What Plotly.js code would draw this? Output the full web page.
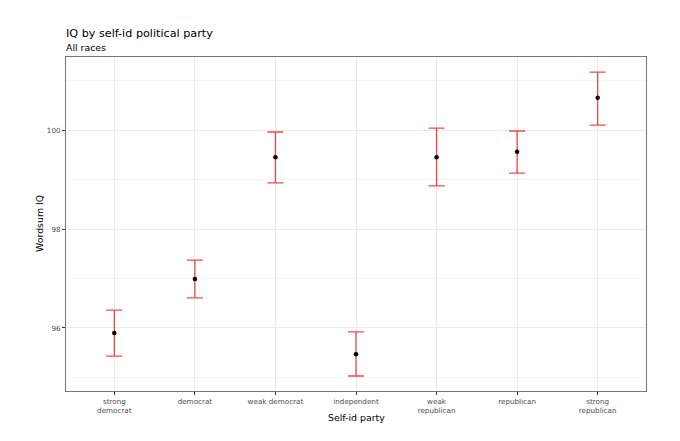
<!DOCTYPE html>
<html>
<head>
<meta charset="utf-8">
<script src="https://cdn.plot.ly/plotly-3.0.1.min.js"></script>
<style>html,body{margin:0;padding:0;background:#fff;}#chart{width:680px;height:441px;}</style>
</head>
<body>
<div id="chart"></div>
<script>
const categories = ["strong<br>democrat", "democrat", "weak democrat", "independent", "weak<br>republican", "republican", "strong<br>republican"];
const means = [95.90, 96.99, 99.45, 95.47, 99.45, 99.56, 100.65];
const upper = [96.36, 97.37, 99.96, 95.92, 100.04, 99.98, 101.17];
const lower = [95.43, 96.61, 98.93, 95.03, 98.87, 99.13, 100.10];
const yTicks = [96, 98, 100];

const xIdx = categories.map((c, i) => i);

const errTrace = {
  x: xIdx,
  y: means,
  type: 'scatter',
  mode: 'markers',
  marker: {size: 0.1, color: 'rgba(0,0,0,0)'},
  error_y: {
    type: 'data',
    symmetric: false,
    array: upper.map((u, i) => u - means[i]),
    arrayminus: lower.map((l, i) => means[i] - l),
    color: 'rgba(235,30,30,0.8)',
    thickness: 1.3,
    width: 8
  },
  hoverinfo: 'skip',
  showlegend: false
};
const ptTrace = {
  x: xIdx,
  y: means,
  type: 'scatter',
  mode: 'markers',
  marker: {size: 4.5, color: '#000'},
  showlegend: false
};

const font = 'DejaVu Sans, sans-serif';
const layout = {
  width: 680, height: 441,
  margin: {l: 66, r: 34, t: 57, b: 50},
  paper_bgcolor: '#fff', plot_bgcolor: '#fff',
  showlegend: false,
  font: {family: font, color: '#000'},
  xaxis: {
    range: [-0.6, 6.6],
    tickmode: 'array', tickvals: xIdx, ticktext: categories,
    tickfont: {size: 7.2, color: '#4d4d4d', family: font},
    ticks: 'outside', ticklen: 3, tickcolor: '#333', tickwidth: 1,
    showgrid: true, gridcolor: '#ebebeb', gridwidth: 1,
    showline: true, mirror: true, linecolor: '#777', linewidth: 1,
    zeroline: false
  },
  yaxis: {
    range: [94.727, 101.475],
    tickmode: 'array', tickvals: yTicks,
    tickfont: {size: 7.2, color: '#4d4d4d', family: font},
    ticks: 'outside', ticklen: 3, tickcolor: '#333', tickwidth: 1,
    showgrid: true, gridcolor: '#ebebeb', gridwidth: 1,
    minor: {tickvals: [95, 97, 99, 101], showgrid: true, gridcolor: '#f4f4f4', gridwidth: 0.8, ticks: ''},
    showline: true, mirror: true, linecolor: '#777', linewidth: 1,
    zeroline: false
  },
  annotations: [
    {text: 'IQ by self-id political party', xref: 'paper', yref: 'paper', x: 0, y: 1, yshift: 24, xshift: -2,
     xanchor: 'left', yanchor: 'middle', showarrow: false, font: {size: 11.2, family: font, color: '#000'}},
    {text: 'All races', xref: 'paper', yref: 'paper', x: 0, y: 1, yshift: 10, xshift: -2,
     xanchor: 'left', yanchor: 'middle', showarrow: false, font: {size: 9.4, family: font, color: '#000'}},
    {text: 'Self-id party', xref: 'paper', yref: 'paper', x: 0.5, y: 0, yshift: -26,
     xanchor: 'center', yanchor: 'middle', showarrow: false, font: {size: 9.4, family: font, color: '#000'}},
    {text: 'Wordsum IQ', xref: 'paper', yref: 'paper', x: 0, y: 0.5, xshift: -27, textangle: -90,
     xanchor: 'center', yanchor: 'middle', showarrow: false, font: {size: 9.4, family: font, color: '#000'}}
  ]
};

Plotly.newPlot('chart', [errTrace, ptTrace], layout, {displayModeBar: false, staticPlot: true});
</script>
</body>
</html>
